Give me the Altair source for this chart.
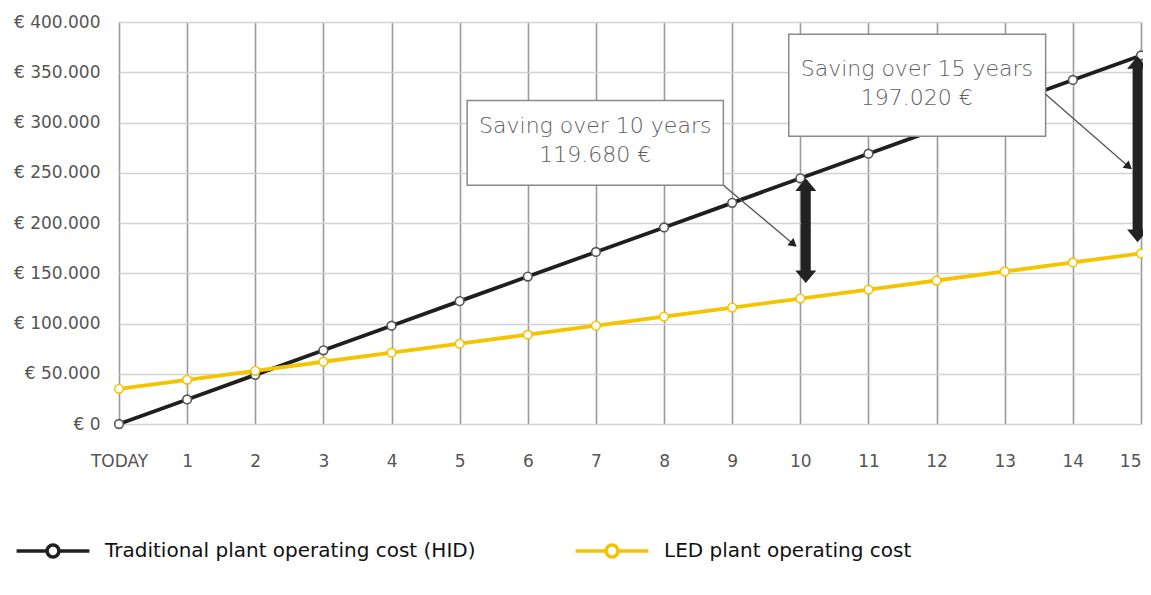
import altair as alt
import pandas as pd

# ---------------- data ----------------
years = list(range(16))
x_labels = ["TODAY"] + [str(i) for i in range(1, 16)]
y_ticks = [0, 50000, 100000, 150000, 200000, 250000, 300000, 350000, 400000]
y_labels = ["€ 0", "€ 50.000", "€ 100.000", "€ 150.000", "€ 200.000",
            "€ 250.000", "€ 300.000", "€ 350.000", "€ 400.000"]

hid_cost = [0, 24450, 48900, 73350, 97800, 122250, 146700, 171150, 195600,
            220050, 244500, 268950, 293400, 317850, 342300, 366750]
led_cost = [35000, 43982, 52964, 61946, 70928, 79910, 88892, 97874, 106856,
            115838, 124820, 133802, 142784, 151766, 160748, 169730]

series_names = ["Traditional plant operating cost (HID)", "LED plant operating cost"]
series_colors = ["#1f1f1f", "#F5C400"]
marker_strokes = ["#555555", "#F5C400"]

# annotation boxes
box_x = [5.11, 9.83]
box_x2 = [8.87, 13.60]
box_y = [322000, 387700]
box_y2 = [237600, 286300]
box_line1 = ["Saving over 10 years", "Saving over 15 years"]
box_line2 = ["119.680 €", "197.020 €"]
text_x = [6.99, 11.71]
text_y1 = [297000, 352900]
text_y2 = [267400, 324000]

# thin pointer arrows
pointer_x = [8.87, 13.60]
pointer_y = [237600, 328000]
pointer_x2 = [9.90, 14.82]
pointer_y2 = [178900, 256000]
pointer_angle = [130, 130]

# thick double arrows (saving gap)
gap_x = [10.08, 14.95]
gap_top = [244500, 366000]
gap_bottom = [140200, 180900]

# ---------------- tables ----------------
lines_df = pd.DataFrame({
    "year": years * 2,
    "value": hid_cost + led_cost,
    "series": [series_names[0]] * len(years) + [series_names[1]] * len(years),
})
box_df = pd.DataFrame({"x": box_x, "x2": box_x2, "y": box_y, "y2": box_y2,
                       "t1": box_line1, "t2": box_line2, "tx": text_x,
                       "ty1": text_y1, "ty2": text_y2})
ptr_df = pd.DataFrame({"x": pointer_x, "y": pointer_y, "x2": pointer_x2,
                       "y2": pointer_y2, "angle": pointer_angle})
gap_df = pd.DataFrame({"x": gap_x, "top": gap_top, "bottom": gap_bottom})

FONT = "DejaVu Sans"

x_expr = "[" + ",".join("'" + s + "'" for s in x_labels) + "][datum.value]"
y_expr = "[" + ",".join("'" + s + "'" for s in y_labels) + "][round(datum.value / 50000)]"

x_scale = alt.Scale(domain=[0, 15], nice=False, zero=False)
y_scale = alt.Scale(domain=[0, 400000], nice=False)

x_axis = alt.Axis(values=years, labelExpr=x_expr, title=None, grid=True,
                  gridColor="#9a9a9a", gridWidth=1.6, domain=False, ticks=False,
                  labelFont=FONT, labelFontSize=17, labelColor="#555555",
                  labelPadding=29, labelFlush=False, labelOverlap=False,
                  labelAlign=alt.ExprRef(expr="datum.value == 15 ? 'right' : 'center'"))
y_axis = alt.Axis(values=y_ticks, labelExpr=y_expr, title=None, grid=True,
                  gridColor="#d2d2d2", gridWidth=1.6, domain=False, ticks=False,
                  labelFont=FONT, labelFontSize=17, labelColor="#555555",
                  labelPadding=19, labelFlush=False, labelOverlap=False)

legend_symbol = ("M-5.2,0H-0.95M0.95,0H5.2"
                 "M0.85,0A0.85,0.85,0,1,1,-0.85,0A0.85,0.85,0,1,1,0.85,0Z")

legend = alt.Legend(title=None, orient="none", direction="horizontal",
                    legendX=-76, legendY=519, symbolType=legend_symbol,
                    symbolSize=196, symbolStrokeWidth=3.5, symbolFillColor="white",
                    labelFont=FONT, labelFontSize=20, labelColor="#111111",
                    labelOffset=42, columnPadding=92, padding=0, labelLimit=600)

base = alt.Chart(lines_df)

lines = base.mark_line(strokeWidth=3.8).encode(
    x=alt.X("year:Q", scale=x_scale, axis=x_axis),
    y=alt.Y("value:Q", scale=y_scale, axis=y_axis),
    color=alt.Color("series:N", scale=alt.Scale(domain=series_names, range=series_colors),
                    legend=legend),
    detail="series:N",
    order="year:Q",
)

points = base.mark_point(filled=False, fill="white", fillOpacity=1, size=75,
                         strokeWidth=1.6, opacity=1).encode(
    x="year:Q",
    y="value:Q",
    stroke=alt.Stroke("series:N", scale=alt.Scale(domain=series_names, range=marker_strokes),
                      legend=None),
)

gap_base = alt.Chart(gap_df)
gap_shaft = gap_base.mark_rule(strokeWidth=10, color="#222222", yOffset=10, y2Offset=-10).encode(
    x="x:Q", y="top:Q", y2="bottom:Q")
gap_head_top = gap_base.mark_point(shape="M0,-0.6L1,0.6L-1,0.6Z", size=441, filled=True,
                                   color="#222222", opacity=1, yOffset=6.3).encode(
    x="x:Q", y="top:Q")
gap_head_bot = gap_base.mark_point(shape="M0,0.6L1,-0.6L-1,-0.6Z", size=441, filled=True,
                                   color="#222222", opacity=1, yOffset=-6.3).encode(
    x="x:Q", y="bottom:Q")

ptr_base = alt.Chart(ptr_df)
ptr_line = ptr_base.mark_rule(strokeWidth=1.3, color="#555555").encode(
    x="x:Q", y="y:Q", x2="x2:Q", y2="y2:Q")
ptr_head = ptr_base.mark_point(shape="triangle-up", size=90, filled=True, color="#222222",
                               opacity=1).encode(
    x="x2:Q", y="y2:Q", angle=alt.Angle("angle:Q", scale=None))

box_base = alt.Chart(box_df)
boxes = box_base.mark_rect(fill="white", stroke="#8a8a8a", strokeWidth=1.5).encode(
    x="x:Q", x2="x2:Q", y="y:Q", y2="y2:Q")
txt1 = box_base.mark_text(font=FONT, fontSize=22, fontWeight=300, color="#5e5e5e",
                          align="center", baseline="middle").encode(
    x="tx:Q", y="ty1:Q", text="t1:N")
txt2 = box_base.mark_text(font=FONT, fontSize=22, fontWeight=300, color="#5e5e5e",
                          align="center", baseline="middle").encode(
    x="tx:Q", y="ty2:Q", text="t2:N")

chart = alt.layer(
    lines, points, gap_shaft, gap_head_top, gap_head_bot, boxes, ptr_line, ptr_head, txt1, txt2
).properties(
    width=1022, height=402,
    padding={"left": 111, "top": 14, "right": 2, "bottom": 156},
    autosize=alt.AutoSizeParams(type="none"),
).configure_view(stroke="transparent").configure(background="white")

chart.save("out.html", embed_options={"renderer": "svg", "actions": False})
